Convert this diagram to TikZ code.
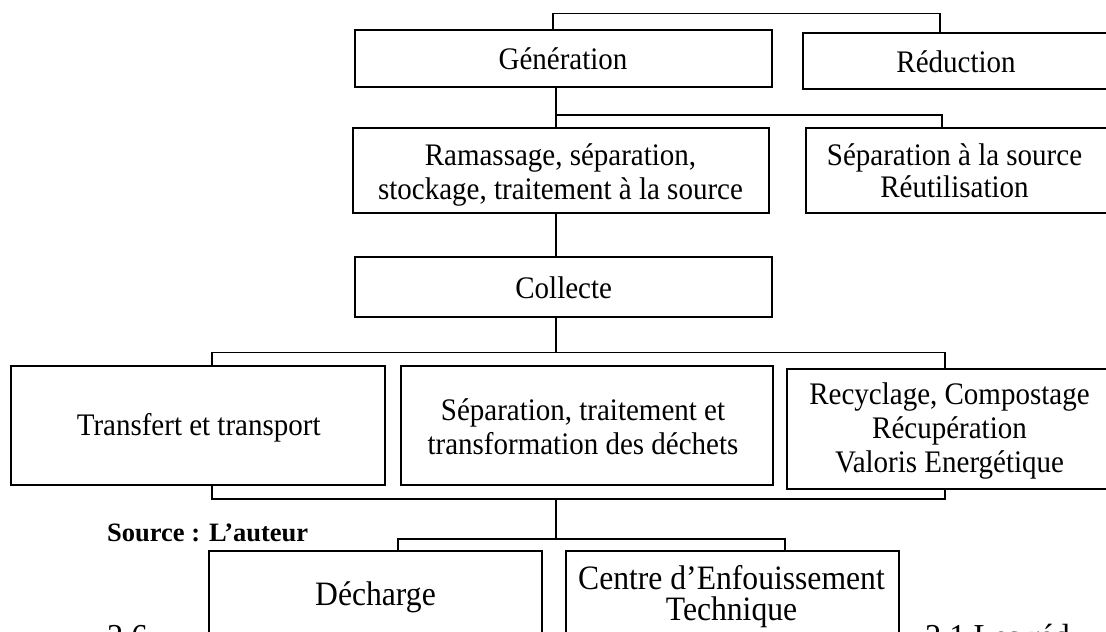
\documentclass[tikz,border=0pt]{standalone}
\usepackage{fontspec}
\setmainfont{Liberation Serif}
\newfontfamily\tallfont[FakeStretch=0.925]{Liberation Serif}
\begin{document}
\begin{tikzpicture}[x=1pt,y=-1pt,
  box/.style={draw, line width=1.9pt, rectangle, inner sep=0pt},
  conn/.style={line width=1.8pt, line join=miter},
  lbl/.style={inner sep=0pt, align=center, font=\tallfont\fontsize{31.35}{34}\selectfont},
  lblb/.style={inner sep=0pt, align=center, font=\tallfont\fontsize{34.2}{31}\selectfont},
  frag/.style={inner sep=0pt, anchor=base west, font=\tallfont\fontsize{35}{38}\selectfont}]
\useasboundingbox (0,0) rectangle (1106,632);

% boxes
\node[box, minimum width=417pt, minimum height=57pt] (gen) at (563.5,58.5) {};
\node[box, minimum width=312pt, minimum height=56pt] (red) at (959,61) {};
\node[box, minimum width=416pt, minimum height=85pt] (ram) at (561,170.5) {};
\node[box, minimum width=309pt, minimum height=85pt] (src) at (960.5,170.5) {};
\node[box, minimum width=417pt, minimum height=60pt] (col) at (563.5,287) {};
\node[box, minimum width=374pt, minimum height=119pt] (tr) at (198,425.5) {};
\node[box, minimum width=372pt, minimum height=119pt] (sep) at (587,425.5) {};
\node[box, minimum width=328pt, minimum height=120pt] (rec) at (951,429) {};
\node[box, minimum width=333pt, minimum height=109pt] (dec) at (375.5,605.5) {};
\node[box, minimum width=333pt, minimum height=109pt] (cet) at (732.5,605.5) {};

% texts
\node[lbl] (gent) at (563,58.3) {Génération};
\node[lbl] (redt) at (956,62) {Réduction};
\node[lbl] (ramt) at (560.5,174.9) {Ramassage, séparation,\\stockage, traitement à la source};
\node[lbl, font=\tallfont\fontsize{31.35}{32}\selectfont] (srct) at (954.5,171) {Séparation à la source\\Réutilisation};
\node[lbl] (colt) at (563.7,287.4) {Collecte};
\node[lbl] (trt) at (198.7,428) {Transfert et transport};
\node[lbl, font=\tallfont\fontsize{31.35}{33.3}\selectfont] (sept) at (583,426.7) {Séparation, traitement et\\transformation des déchets};
\node[lbl] (rect) at (949.5,431) {Recyclage, Compostage\\Récupération\\Valoris Energétique};
\node[lblb] (dect) at (375.5,597.6) {Décharge};
\node[lblb] (cett) at (731.5,596.2) {Centre d’Enfouissement\\Technique};

\node[inner sep=0pt, anchor=base west, font=\fontsize{26.5}{30}\selectfont\bfseries] (srcl) at (107,541) {Source : L’auteur};
\node[frag] (f1) at (107,648) {2.6};
\node[frag] (f2) at (925,648) {2.1 Les réd};

% junction points
\coordinate (j1) at (553,13.5);
\coordinate (j2) at (940,13.5);
\coordinate (j3) at (556,115);
\coordinate (j4) at (942,115);
\coordinate (j5) at (556,352.5);
\coordinate (j6) at (212,352.5);
\coordinate (j7) at (945,352.5);
\coordinate (j8) at (212,499);
\coordinate (j9) at (945,499);
\coordinate (j10) at (556,499);
\coordinate (j11) at (556,540);
\coordinate (j12) at (398,539);
\coordinate (j13) at (785,539);

% connectors
\draw[conn] (gen.north -| j1) -- (j1) -- (j2) -- (red.north -| j2);
\draw[conn] (gen.south -| j3) -- (ram.north -| j3);
\draw[conn] (j3) -- (j4) -- (src.north -| j4);
\draw[conn] (ram.south -| j3) -- (col.north -| j3);
\draw[conn] (col.south -| j5) -- (j5);
\draw[conn] (tr.north -| j6) -- (j6) -- (j7) -- (rec.north -| j7);
\draw[conn] (tr.south -| j8) -- (j8) -- (j9) -- (rec.south -| j9);
\draw[conn] (j10) -- (j11);
\draw[conn] (dec.north -| j12) -- (j12) -- (j13) -- (cet.north -| j13);
\end{tikzpicture}
\end{document}
